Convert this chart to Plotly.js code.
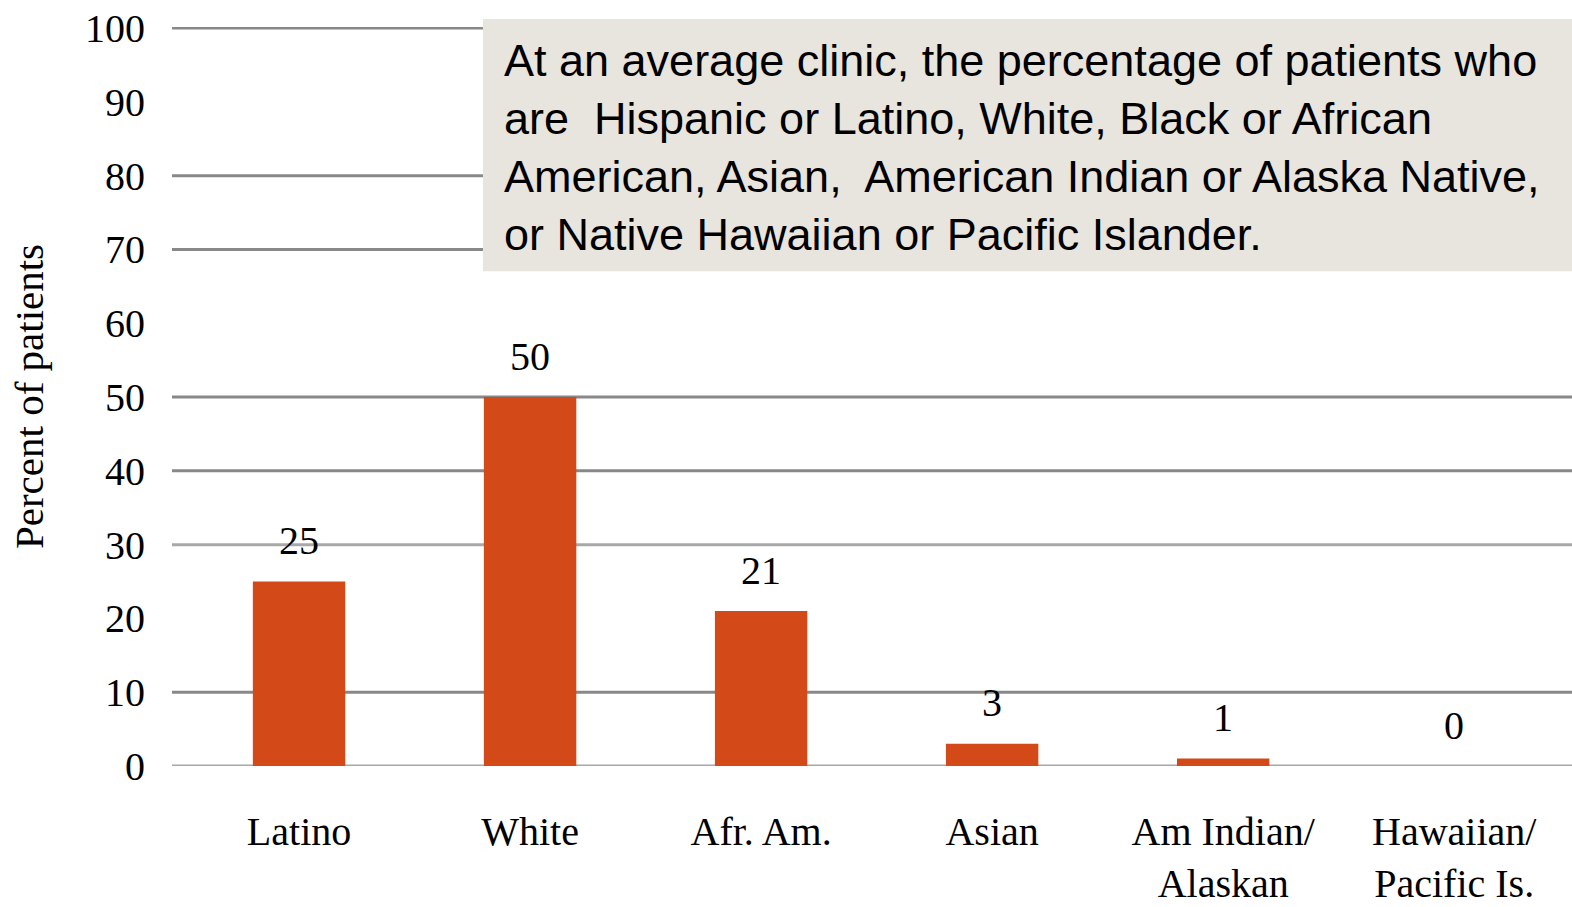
<!DOCTYPE html>
<html><head><meta charset="utf-8">
<script src="https://cdn.plot.ly/plotly-3.0.1.min.js"></script>
<style>html,body{margin:0;padding:0;background:#fff}#chart{width:1572px;height:907px}</style>
</head><body><div id="chart"></div>
<script>
const categories = ["Latino", "White", "Afr. Am.", "Asian", "Am Indian/<br>Alaskan", "Hawaiian/<br>Pacific Is."];
const values = [25, 50, 21, 3, 1, 0];
const valueLabels = ["25", "50", "21", "3", "1", "0"];
const yTicks = [0, 10, 20, 30, 40, 50, 60, 70, 80, 90, 100];
const gridDark = [10, 40, 50, 70, 80, 100];
const gridLight = [0, 30];
const noteLines = [
  "At an average clinic, the percentage of patients who",
  "are  Hispanic or Latino, White, Black or African",
  "American, Asian,  American Indian or Alaska Native,",
  "or Native Hawaiian or Pacific Islander."
];

const serif = "Liberation Serif, Times New Roman, serif";
const xs = categories.map((c, i) => i);

const shapes = [];
gridDark.forEach(v => shapes.push({type:'line', xref:'paper', x0:0, x1:1, yref:'y', y0:v, y1:v, layer:'below', line:{color:'#888888', width:3}}));
gridLight.forEach(v => shapes.push({type:'line', xref:'paper', x0:0, x1:1, yref:'y', y0:v, y1:v, layer:'below', line:{color:'#A8A8A8', width:3}}));
shapes.push({type:'rect', xref:'paper', yref:'paper', x0:0.2221, x1:1.01, y0:0.6694, y1:1.0108, fillcolor:'#E8E4DE', line:{width:0}, layer:'above'});

const annotations = values.map((v, i) => ({
  x: i, y: v, xref:'x', yref:'y', text: valueLabels[i], showarrow:false,
  yanchor:'middle', yshift: 41, font:{family: serif, size: 40, color:'#000'}
}));
noteLines.forEach((t, k) => annotations.push({
  xref:'paper', yref:'paper', x:0.2357, y:(766 - (61 + k*58)) / 738, xanchor:'left', yanchor:'middle',
  text:t, showarrow:false, font:{family:'Liberation Sans, Arial, sans-serif', size:45, color:'#000'}
}));

Plotly.newPlot('chart', [{
  type:'bar', x: xs, y: values, width: 0.4,
  marker:{color:'#D34A18', line:{width:0}}, hoverinfo:'none'
}], {
  width:1572, height:907,
  margin:{l:172, r:0, t:27, b:141},
  paper_bgcolor:'#fff', plot_bgcolor:'#fff',
  showlegend:false,
  bargap:0.6,
  xaxis:{range:[-0.55, 5.51], tickmode:'array', tickvals: xs, ticktext: categories,
    showgrid:false, zeroline:false, showline:false, ticks:'', ticklabelstandoff: 38,
    tickfont:{family: serif, size: 40, color:'#000'}},
  yaxis:{range:[0, 100.15], tickmode:'array', tickvals: yTicks, ticktext: yTicks.map(String),
    showgrid:false, zeroline:false, showline:false, ticks:'', ticklabelstandoff: 26,
    tickfont:{family: serif, size: 40, color:'#000'},
    title:{text:'Percent of patients', font:{family: serif, size: 41, color:'#000'}, standoff: 28}},
  shapes, annotations
}, {staticPlot:true});
</script></body></html>
